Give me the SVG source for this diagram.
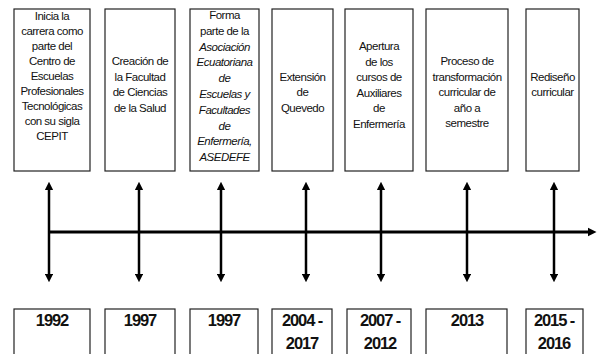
<svg xmlns="http://www.w3.org/2000/svg" width="601" height="354" viewBox="0 0 601 354">
<style>
.box{fill:#fff;stroke:#222;stroke-width:1.2}
.t{font-family:"Liberation Sans",Arial,sans-serif;font-size:11.5px;letter-spacing:-0.5px;text-anchor:middle;fill:#111}
.i{font-style:italic}
.y{font-family:"Liberation Sans",Arial,sans-serif;font-size:16.5px;font-weight:bold;letter-spacing:-1.1px;text-anchor:middle;fill:#111}
.ln{stroke:#000;stroke-width:3;fill:none}
.va{stroke:#000;stroke-width:2.5;fill:none;marker-start:url(#ah);marker-end:url(#ah)}
</style>
<defs>
<marker id="ah" viewBox="0 0 10 10" refX="5" refY="5" markerWidth="3.4" markerHeight="3.4" orient="auto-start-reverse" markerUnits="strokeWidth">
<path d="M0,0 L10,5 L0,10 Z" fill="#000"/>
</marker>
<marker id="ah2" viewBox="0 0 10 10" refX="5" refY="5" markerWidth="3" markerHeight="3.4" orient="auto" markerUnits="strokeWidth">
<path d="M0,0 L10,5 L0,10 Z" fill="#000"/>
</marker>
</defs>

<g id="ev1"><rect class="box" x="14" y="9" width="76" height="162"/>
<text class="t"><tspan x="52" y="19.5">Inicia la</tspan><tspan x="52" y="34.5">carrera como</tspan><tspan x="52" y="49.5">parte del</tspan><tspan x="52" y="64.5">Centro de</tspan><tspan x="52" y="79.5">Escuelas</tspan><tspan x="52" y="94.5">Profesionales</tspan><tspan x="52" y="109.5">Tecnológicas</tspan><tspan x="52" y="124.5">con su sigla</tspan><tspan x="52" y="139.5">CEPIT</tspan></text></g>

<g id="ev2"><rect class="box" x="105" y="9" width="70" height="162"/>
<text class="t"><tspan x="140" y="65">Creación de</tspan><tspan x="140" y="80.5">la Facultad</tspan><tspan x="140" y="96">de Ciencias</tspan><tspan x="140" y="111.5">de la Salud</tspan></text></g>

<g id="ev3"><rect class="box" x="190" y="9" width="69" height="162"/>
<text class="t"><tspan x="224.5" y="19">Forma</tspan><tspan x="224.5" y="34.8">parte de la</tspan><tspan class="i" x="224.5" y="50.6">Asociación</tspan><tspan class="i" x="224.5" y="66.4">Ecuatoriana</tspan><tspan class="i" x="224.5" y="82.2">de</tspan><tspan class="i" x="224.5" y="98">Escuelas y</tspan><tspan class="i" x="224.5" y="113.8">Facultades</tspan><tspan class="i" x="224.5" y="129.6">de</tspan><tspan class="i" x="224.5" y="145.4">Enfermería,</tspan><tspan class="i" x="224.5" y="161.2">ASEDEFE</tspan></text></g>

<g id="ev4"><rect class="box" x="272" y="9" width="61" height="162"/>
<text class="t"><tspan x="302.5" y="80.5">Extensión</tspan><tspan x="302.5" y="96">de</tspan><tspan x="302.5" y="111.5">Quevedo</tspan></text></g>

<g id="ev5"><rect class="box" x="345" y="9" width="68" height="162"/>
<text class="t"><tspan x="379" y="50">Apertura</tspan><tspan x="379" y="65.5">de los</tspan><tspan x="379" y="81">cursos de</tspan><tspan x="379" y="96.5">Auxiliares</tspan><tspan x="379" y="112">de</tspan><tspan x="379" y="127.5">Enfermería</tspan></text></g>

<g id="ev6"><rect class="box" x="426" y="9" width="82" height="162"/>
<text class="t"><tspan x="467" y="65">Proceso de</tspan><tspan x="467" y="80.5">transformación</tspan><tspan x="467" y="96">curricular de</tspan><tspan x="467" y="111.5">año a</tspan><tspan x="467" y="127">semestre</tspan></text></g>

<g id="ev7"><rect class="box" x="526" y="9" width="53" height="162"/>
<text class="t"><tspan x="552.5" y="80.5">Rediseño</tspan><tspan x="552.5" y="96">curricular</tspan></text></g>

<g id="connectors">
<line class="ln" x1="48" y1="232" x2="592" y2="232" marker-end="url(#ah2)"/>
<line class="va" x1="49" y1="186" x2="49" y2="278"/>
<line class="va" x1="139" y1="186" x2="139" y2="278"/>
<line class="va" x1="221" y1="186" x2="221" y2="278"/>
<line class="va" x1="306" y1="186" x2="306" y2="278"/>
<line class="va" x1="381" y1="186" x2="381" y2="278"/>
<line class="va" x1="467" y1="186" x2="467" y2="278"/>
<line class="va" x1="554" y1="186" x2="554" y2="278"/>
</g>

<g id="y1"><rect class="box" x="14" y="309" width="76" height="50"/><text class="y" x="52" y="325.5">1992</text></g>
<g id="y2"><rect class="box" x="105" y="309" width="70" height="50"/><text class="y" x="140" y="325.5">1997</text></g>
<g id="y3"><rect class="box" x="190" y="309" width="68" height="50"/><text class="y" x="224" y="325.5">1997</text></g>
<g id="y4"><rect class="box" x="272" y="309" width="60" height="50"/><text class="y"><tspan x="302" y="325.5">2004 -</tspan><tspan x="302" y="348.5">2017</tspan></text></g>
<g id="y5"><rect class="box" x="347" y="309" width="64" height="50"/><text class="y"><tspan x="380" y="325.5">2007 -</tspan><tspan x="380" y="348.5">2012</tspan></text></g>
<g id="y6"><rect class="box" x="426" y="309" width="81" height="50"/><text class="y" x="467" y="325.5">2013</text></g>
<g id="y7"><rect class="box" x="526" y="309" width="57" height="50"/><text class="y"><tspan x="554" y="325.5">2015 -</tspan><tspan x="554" y="348.5">2016</tspan></text></g>
</svg>
